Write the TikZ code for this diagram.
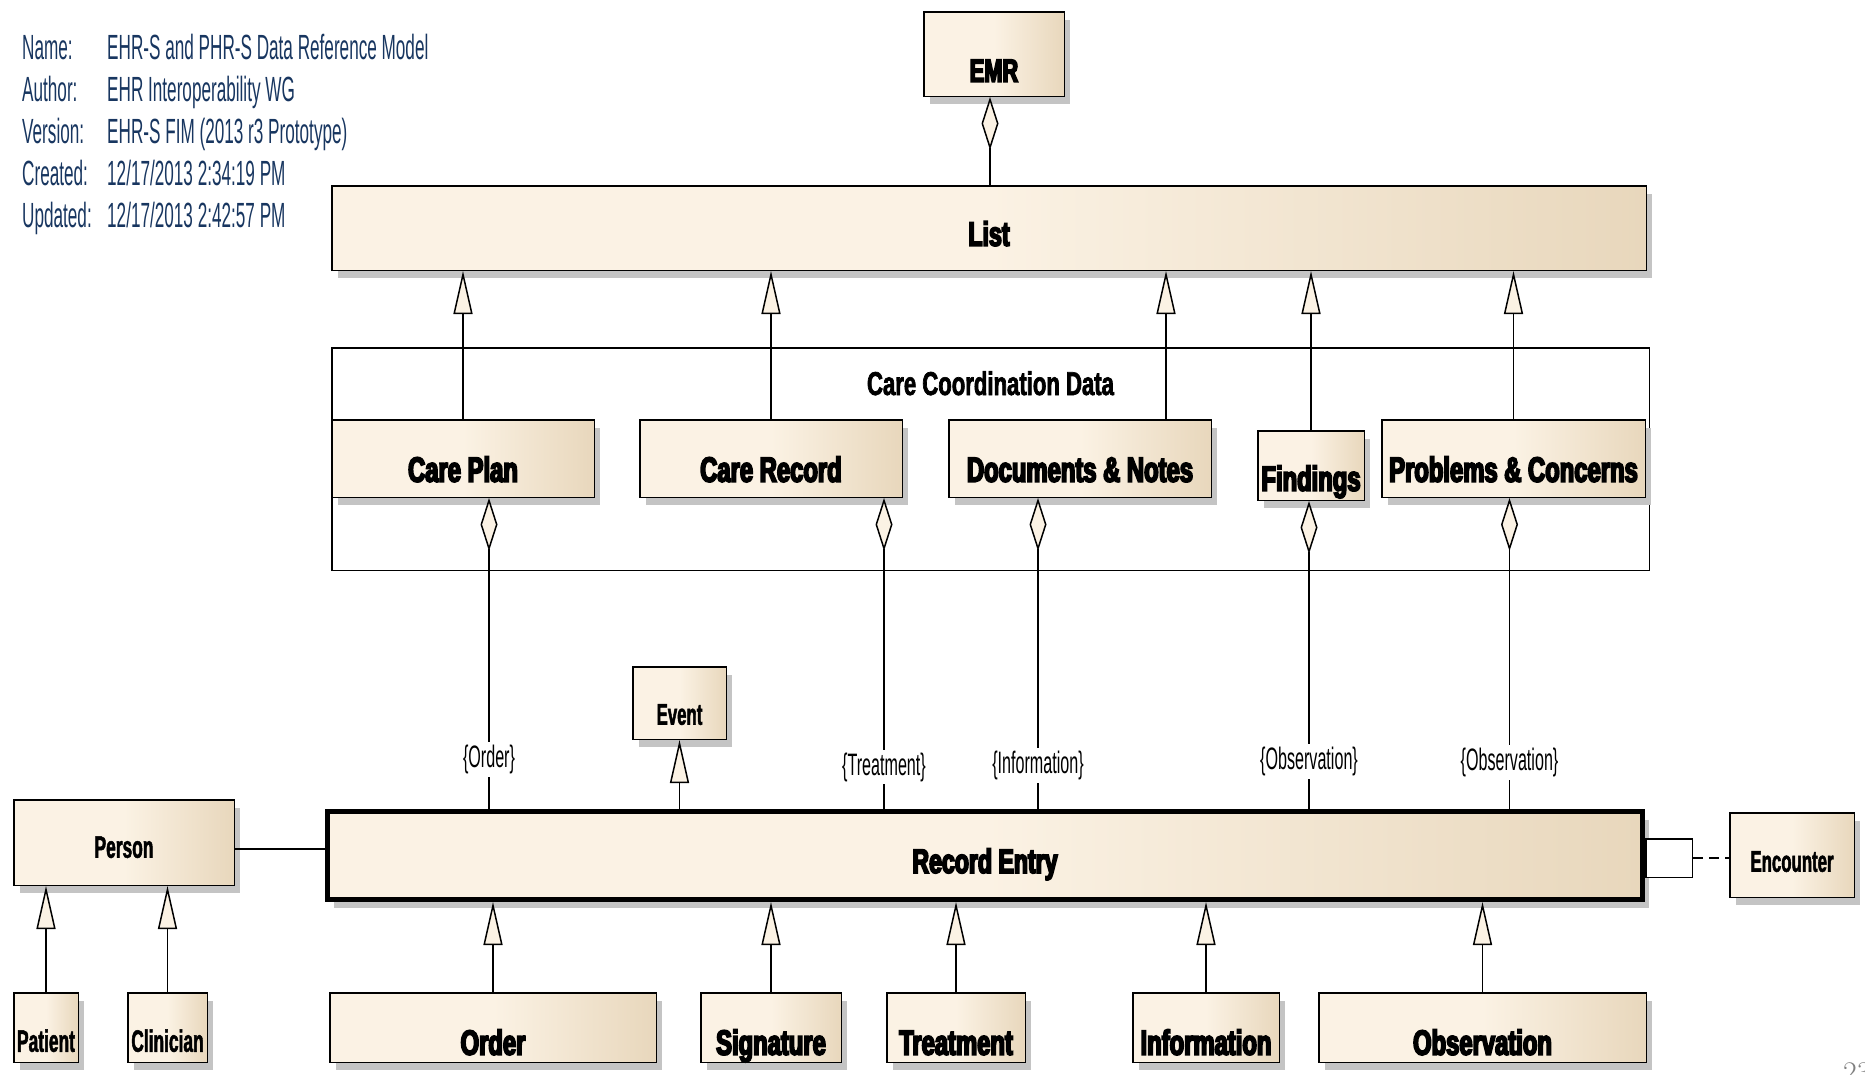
\documentclass[tikz,border=0pt]{standalone}
\usepackage{fontspec}
\usepackage{tikz}
\usetikzlibrary{arrows.meta,positioning,shadows}

\newfontfamily\heavyfont{Liberation Sans}[FakeStretch=0.68, FakeBold=5]
\newfontfamily\pkgfont{Liberation Sans}[FakeStretch=0.67, FakeBold=2]
\newfontfamily\midfont{Liberation Sans}[FakeStretch=0.56, FakeBold=1.5]
\newfontfamily\rolefont{Liberation Sans}[FakeStretch=0.52]
\newfontfamily\thinfont{Liberation Sans}[FakeStretch=0.49]

\definecolor{bcream}{RGB}{251,242,228}
\definecolor{btan}{RGB}{232,215,188}
\definecolor{shadowgrey}{RGB}{196,196,196}
\definecolor{metablue}{RGB}{24,54,96}

\begin{document}
\begin{tikzpicture}[
    x=1pt, y=-1pt,
    cls/.style={draw, line width=1.5pt, inner sep=0pt, left color=bcream, right color=btan, middle color=bcream,
        drop shadow={shadow xshift=6pt, shadow yshift=-8pt, fill=shadowgrey, opacity=1}},
    heavy/.style={cls, font=\heavyfont\bfseries\fontsize{#1}{#1}\selectfont},
    heavy/.default=35,
    medium/.style={cls, font=\midfont\bfseries\fontsize{#1}{#1}\selectfont},
    medium/.default=31,
    sz/.style n args={3}{minimum width=#1pt, text height=#2pt, text depth=#3pt},
    package/.style={draw, line width=1.5pt, inner sep=0pt},
    qualbox/.style={draw, fill=white, line width=1.5pt, minimum width=46.5pt, minimum height=38.5pt, inner sep=0pt},
    role/.style={fill=white, inner sep=3pt, font=\rolefont\fontsize{31}{31}\selectfont},
    meta/.style={anchor=base west, inner sep=0pt, text=metablue, font=\thinfont\fontsize{35}{35}\selectfont},
    gen/.style={-{Triangle[length=43pt, width=19pt, fill=bcream]}, line width=1.5pt},
    aggr/.style={{Diamond[length=53pt, width=17pt, fill=bcream]}-, line width=1.5pt}
]
\useasboundingbox (0,0) rectangle (1865,1074);

% Diagram info
\foreach \key/\val [count=\i] in {Name:/{EHR-S and PHR-S Data Reference Model}, Author:/{EHR Interoperability WG},
    Version:/{EHR-S FIM (2013 r3 Prototype)}, Created:/{12/17/2013 2:34:19 PM}, Updated:/{12/17/2013 2:42:57 PM}} {
  \node[meta] (key\i) at (22, 17+42*\i) {\key};
  \node[meta] (val\i) at (107, 17+42*\i) {\val};
}

% Top: EMR and List
\node[heavy=32, sz={140.5}{70}{14.5}] (EMR) at (994,54) {EMR};
\node[heavy=34, sz={1314.5}{60}{24.5}] (List) at (989,228) {List};

% Package: Care Coordination Data
\node[package, minimum width=1317.5pt, minimum height=222.5pt] (CCD) at (990.5,459) {};
\node[anchor=base, font=\pkgfont\bfseries\fontsize{33}{33}\selectfont] (CCDname) at ([yshift=-48pt]CCD.north) {Care Coordination Data};

\node[heavy, sz={262.5}{62}{15.5}] (CP) at (463,458.5) {Care Plan};
\node[heavy, sz={262.5}{62}{15.5}] (CR) at (771,458.5) {Care Record};
\node[heavy, sz={262.5}{62}{15.5}] (DN) at (1080,458.5) {Documents \& Notes};
\node[heavy, sz={106.5}{60}{9.5}] (Find) at (1311,465.5) {Findings};
\node[heavy, sz={263.5}{62}{15.5}] (Prob) at (1513.5,458.5) {Problems \& Concerns};

% Middle: Event, Person, Record Entry, Encounter
\node[medium=30, sz={93.5}{58}{14.5}] (Event) at (679.5,703) {Event};
\node[medium, sz={220.5}{58}{27.5}] (Person) at (124,842.5) {Person};
\node[heavy=34, sz={1315}{61.5}{26.5}, line width=5pt] (RE) at (985,855.5) {Record Entry};
\node[qualbox, anchor=west] (qual) at ([yshift=-2.5pt]RE.east) {};
\node[medium=30, sz={124.5}{59}{25.5}] (Enc) at (1792,855) {Encounter};

% Bottom row
\node[medium, sz={64.5}{59}{10.5}] (Patient) at (46,1027.5) {Patient};
\node[medium, sz={79.5}{59}{10.5}] (Clinician) at (167.5,1027.5) {Clinician};
\node[heavy, sz={326.5}{62}{7.5}] (Order) at (493,1027.5) {Order};
\node[heavy, sz={140.5}{62}{7.5}] (Sign) at (771,1027.5) {Signature};
\node[heavy, sz={138.5}{62}{7.5}] (Treat) at (956,1027.5) {Treatment};
\node[heavy, sz={146.5}{62}{7.5}] (Info) at (1206,1027.5) {Information};
\node[heavy, sz={327.5}{62}{7.5}] (Obs) at (1482.5,1027.5) {Observation};

% Edges - generalization
\foreach \n in {CP,CR,Find,Prob}
  \draw[gen] (\n.north) -- (\n.north |- List.south);
\draw[gen] ([xshift=86pt]DN.north) -- ([xshift=86pt]DN.north |- List.south);
\foreach \n in {Order,Sign,Treat,Info,Obs}
  \draw[gen] (\n.north) -- (\n.north |- RE.south);
\draw[gen] (Event.south |- RE.north) -- (Event.south);
\foreach \n in {Patient,Clinician}
  \draw[gen] (\n.north) -- (\n.north |- Person.south);

% Edges - aggregation
\draw[aggr] ([xshift=-4pt]EMR.south) -- ([xshift=-4pt]EMR.south |- List.north);
\draw[aggr] ([xshift=26pt]CP.south) -- ([xshift=26pt]CP.south |- RE.north) node[role, pos=0.84] {\{Order\}};
\draw[aggr] ([xshift=113pt]CR.south) -- ([xshift=113pt]CR.south |- RE.north) node[role, pos=0.865] {\{Treatment\}};
\draw[aggr] ([xshift=-42pt]DN.south) -- ([xshift=-42pt]DN.south |- RE.north) node[role, pos=0.86] {\{Information\}};
\draw[aggr] ([xshift=-2pt]Find.south) -- ([xshift=-2pt]Find.south |- RE.north) node[role, pos=0.845] {\{Observation\}};
\draw[aggr] ([xshift=-4pt]Prob.south) -- ([xshift=-4pt]Prob.south |- RE.north) node[role, pos=0.85] {\{Observation\}};

% Edges - associations
\draw[line width=1.5pt] ([yshift=-6.5pt]Person.east) -- ([yshift=-6.5pt]Person.east -| RE.west);
\draw[line width=1.5pt, dash pattern=on 10pt off 6pt] (qual.east) -- (qual.east -| Enc.west);

% Page number (cut off)
\node[anchor=north west, inner sep=0pt, text=black!50, font=\fontsize{30}{30}\selectfont] (pagenum) at (1843,1062) {23};

\end{tikzpicture}
\end{document}
